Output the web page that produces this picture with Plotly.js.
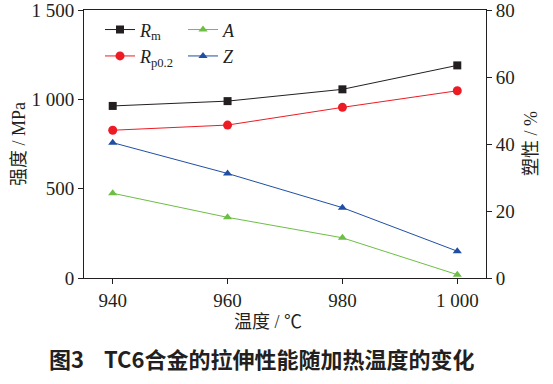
<!DOCTYPE html>
<html>
<head>
<meta charset="utf-8">
<script src="https://cdn.plot.ly/plotly-3.0.1.min.js"></script>
<style>html,body{margin:0;padding:0;background:#fff;}#chart{width:553px;height:384px;}</style>
</head>
<body>
<div id="chart"></div>
<script>
const temperatures = [940, 960, 980, 1000];
const xTickText = ['940', '960', '980', '1 000'];
const Rm = [963, 990, 1056, 1190];
const Rp02 = [827, 856, 955, 1048];
const A = [25.3, 18.1, 12.0, 1.0];
const Z = [40.4, 31.2, 21.0, 8.0];
const leftTickVals = [0, 500, 1000, 1500];
const leftTickText = ['0', '500', '1 000', '1 500'];
const rightTickVals = [0, 20, 40, 60, 80];

const serif = 'Liberation Serif, Times New Roman, serif';
const mixed = 'Liberation Serif, Noto Sans CJK SC, serif';
const cjk = 'Noto Sans CJK SC, sans-serif';
const ink = '#231f20';

const traces = [
  {x: temperatures, y: Rm, name: '<i>R</i><sub>m</sub>', mode: 'lines+markers', legend: 'legend',
   line: {color: '#231f20', width: 1}, marker: {symbol: 'square', size: 8, color: '#231f20'}},
  {x: temperatures, y: Rp02, name: '<i>R</i><sub>p0.2</sub>', mode: 'lines+markers', legend: 'legend',
   line: {color: '#ed1c24', width: 1}, marker: {symbol: 'circle', size: 9, color: '#ed1c24'}},
  {x: temperatures, y: A, name: '<i>A</i>', yaxis: 'y2', mode: 'lines+markers', legend: 'legend2',
   line: {color: '#6dbe45', width: 1}, marker: {symbol: 'triangle-up', size: 8, color: '#6dbe45'}},
  {x: temperatures, y: Z, name: '<i>Z</i>', yaxis: 'y2', mode: 'lines+markers', legend: 'legend2',
   line: {color: '#1f4fa3', width: 1}, marker: {symbol: 'triangle-up', size: 8, color: '#1f4fa3'}}
];

const legendBase = {orientation: 'v', yanchor: 'top', xanchor: 'left', bgcolor: 'rgba(0,0,0,0)',
  font: {family: serif, size: 18, color: ink}, itemwidth: 30, tracegroupgap: 0};

const layout = {
  width: 553, height: 384,
  margin: {l: 84, r: 67, t: 10, b: 106},
  paper_bgcolor: '#fff', plot_bgcolor: '#fff',
  font: {family: serif, size: 19, color: ink},
  showlegend: true,
  legend: Object.assign({}, legendBase, {x: (100 - 84) / 402, y: 0.995}),
  legend2: Object.assign({}, legendBase, {x: (183 - 84) / 402, y: 0.995}),
  xaxis: {range: [935, 1005], tickvals: temperatures, ticktext: xTickText,
    showline: true, linecolor: ink, linewidth: 1, mirror: true,
    ticks: 'outside', ticklen: 5, tickcolor: ink, showgrid: false, zeroline: false,
    ticklabeloverflow: 'allow',
    tickfont: {family: serif, size: 19, color: ink}},
  yaxis: {range: [0, 1500], tickvals: leftTickVals, ticktext: leftTickText,
    showline: true, linecolor: ink, linewidth: 1,
    ticks: 'outside', ticklen: 5, tickcolor: ink, showgrid: false, zeroline: false,
    ticklabeloverflow: 'allow',
    tickfont: {family: serif, size: 19, color: ink}},
  yaxis2: {range: [0, 80], tickvals: rightTickVals, overlaying: 'y', side: 'right',
    showline: true, linecolor: ink, linewidth: 1,
    ticks: 'outside', ticklen: 5, tickcolor: ink, showgrid: false, zeroline: false,
    ticklabeloverflow: 'allow',
    tickfont: {family: serif, size: 19, color: ink}},
  annotations: [
    {text: '强度 / MPa', xref: 'paper', yref: 'paper', x: (19 - 84) / 402, y: 0.5,
     textangle: -90, showarrow: false, xanchor: 'center', yanchor: 'middle',
     font: {family: mixed, size: 18, color: ink}},
    {text: '塑性 / %', xref: 'paper', yref: 'paper', x: (531 - 84) / 402, y: 0.5,
     textangle: -90, showarrow: false, xanchor: 'center', yanchor: 'middle',
     font: {family: mixed, size: 18, color: ink}},
    {text: '温度 / ℃', xref: 'paper', yref: 'paper', x: (268 - 84) / 402, y: (278 - 322) / 268,
     showarrow: false, xanchor: 'center', yanchor: 'middle',
     font: {family: mixed, size: 18, color: ink}},
    {text: '<b>图3    TC6合金的拉伸性能随加热温度的变化</b>', xref: 'paper', yref: 'paper',
     x: (261 - 84) / 402, y: (278 - 358) / 268, showarrow: false, xanchor: 'center', yanchor: 'middle',
     font: {family: cjk, size: 22, color: ink}}
  ]
};

Plotly.newPlot('chart', traces, layout, {staticPlot: true, displayModeBar: false});
</script>
</body>
</html>
